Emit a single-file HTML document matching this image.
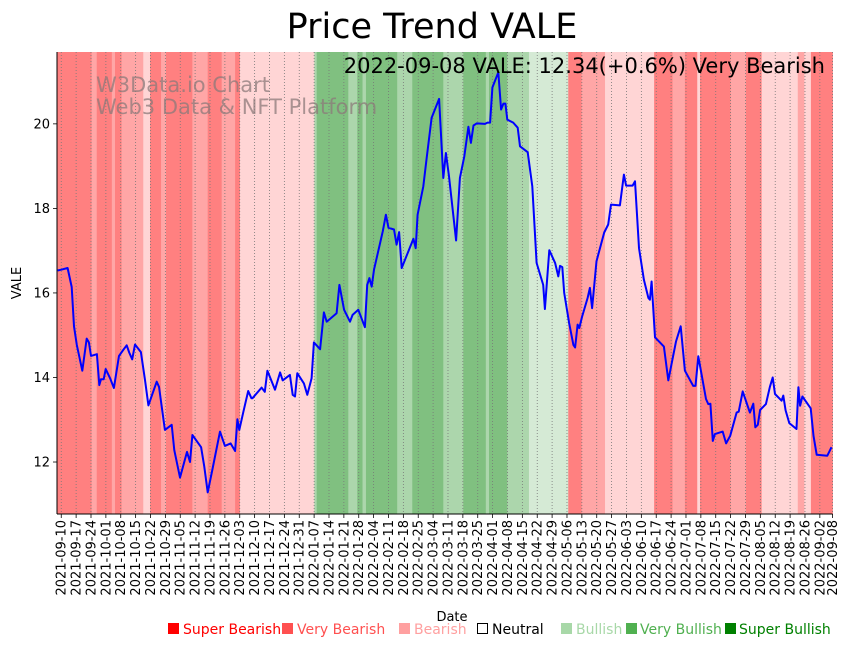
<!DOCTYPE html>
<html><head><meta charset="utf-8"><style>
html,body{margin:0;padding:0;background:#fff;}
svg{display:block;font-family:"DejaVu Sans","Liberation Sans",sans-serif;}
</style></head><body>
<svg id="chart" width="851" height="646" viewBox="0 0 851 646" xmlns="http://www.w3.org/2000/svg">
<g id="bands"></g>
<g id="grid"></g>
<g id="line"></g>
<g id="axes"></g>
<text x="432" y="38" font-size="35" text-anchor="middle" fill="#000">Price Trend VALE</text>
<text x="825" y="73" font-size="21" text-anchor="end" fill="#000">2022-09-08 VALE: 12.34(+0.6%) Very Bearish</text>
<text x="96" y="92" font-size="21" fill="#8c7a7a" fill-opacity="0.75">W3Data.io Chart</text>
<text x="96" y="114" font-size="21" fill="#8c7a7a" fill-opacity="0.75">Web3 Data &amp; NFT Platform</text>
<text x="21" y="283" font-size="13" text-anchor="middle" transform="rotate(-90 21 283)">VALE</text>
<text x="452" y="621" font-size="13" text-anchor="middle">Date</text>
<g font-size="14">
<g><rect x="168" y="623" width="11" height="11" fill="#ff0000"/><text x="183" y="634" fill="#ff0000">Super Bearish</text></g>
<g><rect x="282" y="623" width="11" height="11" fill="#ff5050"/><text x="297" y="634" fill="#ff5050">Very Bearish</text></g>
<g><rect x="399" y="623" width="11" height="11" fill="#ffa0a0"/><text x="414" y="634" fill="#ffa0a0">Bearish</text></g>
<g><rect x="477.5" y="623.5" width="10" height="10" fill="none" stroke="#000"/><text x="492" y="634" fill="#000">Neutral</text></g>
<g><rect x="561" y="623" width="11" height="11" fill="#a8d8a8"/><text x="576" y="634" fill="#a8d8a8">Bullish</text></g>
<g><rect x="626" y="623" width="11" height="11" fill="#50b050"/><text x="640" y="634" fill="#50b050">Very Bullish</text></g>
<g><rect x="725" y="623" width="11" height="11" fill="#008000"/><text x="739" y="634" fill="#008000">Super Bullish</text></g>
</g>
</svg>
<script>
// day offsets from 2021-09-08 and closing prices
const priceDays = [0.3,2,5,6.9,8,9.3,11.9,14,15,16,18.8,19.9,20.7,22,22.9,25,26.8,29.2,31,32.8,34,35.4,36.7,39.5,41.4,43,46.9,48,50.8,54,55.2,57.9,61.2,62.6,63.7,67.8,69.3,70.9,73.1,76.7,79,81.7,83.8,84.9,85.8,87.7,90,91.5,92,96.3,97.8,99,102.6,105,106.2,109.6,110.9,112,113.1,116.2,117.8,119.8,120.9,123.8,125.6,126.9,131.6,132.9,135.1,137.9,139.1,141.8,144.9,146,147,148.1,149.2,153.3,154.8,156,158.6,159.8,161,162.2,167.7,168.8,169.7,172.4,174,176.3,179.8,181.8,183,184.5,187.8,189.6,191.7,193.6,194.8,196,197.5,201.4,202.6,203.8,204.9,207.7,209,210.1,211,211.9,214.7,216.8,217.9,221.5,223.7,225.7,228.8,229.6,231.7,234.4,235.9,236.7,237.8,238.7,241,243,243.8,245,245.8,247.1,249.7,250.8,251.8,253.9,257.5,259.4,260.7,264.9,266.8,267.8,270.9,272,273.9,276.2,278.3,279,279.8,281.4,285.6,287.7,291.3,293.5,295.5,299.4,300.5,301.8,305.4,306.5,307.5,308.6,309.6,313.3,314.9,316.8,319.8,320.8,322.7,326.1,327.7,328.6,329.8,330.9,333.6,335.5,336.8,337.9,341,341.8,342.9,344.6,348,348.9,349.7,350.8,354.7,356,357.5,362.5,364.5];
const prices = [16.53,16.55,16.59,16.14,15.21,14.77,14.16,14.92,14.83,14.51,14.55,13.82,13.96,13.96,14.2,13.98,13.75,14.51,14.64,14.76,14.59,14.43,14.78,14.6,13.94,13.34,13.9,13.78,12.76,12.88,12.28,11.63,12.24,12.0,12.64,12.35,11.89,11.28,11.81,12.72,12.38,12.44,12.26,13.01,12.76,13.19,13.68,13.51,13.51,13.76,13.66,14.16,13.71,14.12,13.93,14.06,13.59,13.55,14.1,13.86,13.59,13.98,14.83,14.67,15.54,15.32,15.52,16.19,15.6,15.32,15.48,15.6,15.19,16.19,16.35,16.15,16.55,17.46,17.85,17.54,17.5,17.14,17.44,16.59,17.28,17.06,17.85,18.52,19.2,20.14,20.59,18.72,19.31,18.76,17.24,18.72,19.23,19.93,19.55,19.96,20.01,20.0,20.03,20.03,20.86,21.22,20.34,20.48,20.48,20.1,20.03,19.91,19.47,19.33,18.52,16.71,16.19,15.62,17.01,16.71,16.39,16.64,16.61,16.0,15.29,14.77,14.71,15.25,15.17,15.44,15.88,16.12,15.64,16.75,17.43,17.62,18.09,18.07,18.8,18.54,18.54,18.64,17.06,16.31,15.88,15.84,16.27,14.95,14.73,13.93,14.85,15.21,14.16,13.8,13.8,14.5,13.49,13.37,13.38,12.5,12.66,12.72,12.44,12.62,13.17,13.19,13.67,13.17,13.38,12.82,12.88,13.23,13.37,13.78,14.0,13.61,13.45,13.57,13.22,12.92,12.78,13.77,13.33,13.55,13.27,12.62,12.17,12.15,12.35];
// sentiment bands: start day, end day, level (-3..3)
const bandStarts = [0,16.3,18.7,25.8,27.3,30.4,40.6,43.8,49,51.3,63.7,70.9,77.5,83.8,86.1,121.1,122.2,137.1,141.3,143.8,145.4,160.1,167.2,181.8,191.2,201.8,203.3,211.9,222.1,240.6,246.9,257.9,281,289.7,295.5,301.3,302.6,317,324.2,331.6,348.6,351.7,354.8];
const bandEnds   = [16.3,18.7,25.8,27.3,30.4,40.6,43.8,49,51.3,63.7,70.9,77.5,83.8,86.1,121.1,122.2,137.1,141.3,143.8,145.4,160.1,167.2,181.8,191.2,201.8,203.3,211.9,222.1,240.6,246.9,257.9,281,289.7,295.5,301.3,302.6,317,324.2,331.6,348.6,351.7,354.8,365];
const bandLevels = [-3,-2,-3,-2,-3,-2,-1,-3,-2,-3,-2,-3,-2,-3,-1,2,3,2,3,2,3,2,3,2,3,2,3,2,1,-3,-2,-1,-3,-2,-3,-1,-3,-2,-3,-1,-2,-1,-3];
const yTicks = [12,14,16,18,20];

const NS = "http://www.w3.org/2000/svg";
const X0 = 57, X1 = 832.6, Y0 = 52, Y1 = 514;
const DMAX = 365, PMIN = 10.77, PMAX = 21.7;
function xs(d){ return X0 + d/DMAX*(X1-X0); }
function ys(p){ return Y1 - (p-PMIN)/(PMAX-PMIN)*(Y1-Y0); }
const colors = {"-3":"#ff8080","-2":"#ffa6a6","-1":"#ffd5d5","1":"#d5ead5","2":"#acd6ac","3":"#80c080"};
function mk(tag, attrs, parent){ const e=document.createElementNS(NS,tag); for(const k in attrs) e.setAttribute(k,attrs[k]); parent.appendChild(e); return e; }

const gB = document.getElementById('bands');
bandStarts.forEach((s,i)=>{
  const r = mk('rect',{x:xs(s),y:Y0,width:xs(bandEnds[i])-xs(s)+0.3,height:Y1-Y0,fill:colors[bandLevels[i]]},gB);
  
  
});

const gG = document.getElementById('grid');
const gA = document.getElementById('axes');
const start = Date.UTC(2021,8,8);
function fmt(d){ const t=new Date(start+d*86400000); return t.toISOString().slice(0,10); }
const tickDays = [];
for(let d=2; d<=360; d+=7) tickDays.push(d);
tickDays.push(365);
tickDays.forEach(d=>{
  const x = xs(d);
  const gl = mk('line',{x1:x,x2:x,y1:Y0,y2:Y1,stroke:'#777','stroke-width':0.8,'stroke-dasharray':'1,2'},gG);
  
  
  mk('line',{x1:x,x2:x,y1:Y1,y2:Y1+4,stroke:'#000','stroke-width':0.8},gA);
  const t = mk('text',{x:x+4.5,y:520,'font-size':13,'text-anchor':'end',transform:`rotate(-90 ${x+4.5} 520)`},gA);
  
  
  t.textContent = fmt(d);
});
yTicks.forEach(v=>{
  const y = ys(v);
  mk('line',{x1:X0-4,x2:X0,y1:y,y2:y,stroke:'#000','stroke-width':0.8},gA);
  const t = mk('text',{x:X0-7,y:y+4.5,'font-size':13,'text-anchor':'end'},gA);
  
  
  t.textContent = v;
});
mk('line',{x1:X0,x2:X0,y1:Y0,y2:Y1,stroke:'#000','stroke-width':1},gA);
mk('line',{x1:X0,x2:X1,y1:Y1,y2:Y1,stroke:'#000','stroke-width':1},gA);

const gL = document.getElementById('line');
const pts = priceDays.map((d,i)=>xs(d).toFixed(1)+','+ys(prices[i]).toFixed(1)).join(' ');
const pl = mk('polyline',{points:pts,fill:'none',stroke:'#0000ff','stroke-width':2,'stroke-linejoin':'round'},gL);


</script>
</body></html>
